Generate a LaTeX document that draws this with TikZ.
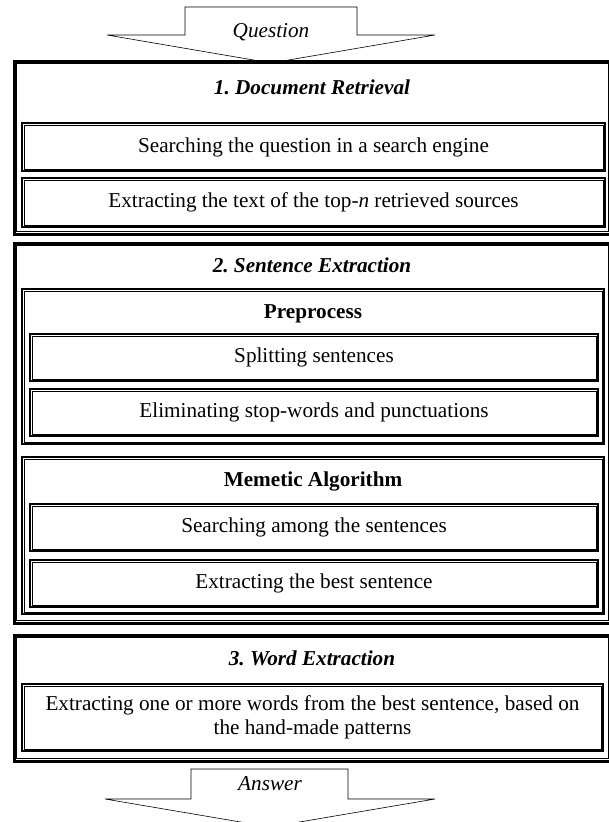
\documentclass[tikz,border=0pt]{standalone}
\usepackage{fontspec}
\setmainfont{Liberation Serif}
\usetikzlibrary{positioning}
\frenchspacing

\begin{document}
\begin{tikzpicture}
[x=1pt, y=-1pt,
 font=\fontsize{21.2}{24}\selectfont,
 stage/.style={shape=rectangle, draw, line width=3pt, outer sep=0pt, inner sep=0pt, anchor=north west},
 group/.style={shape=rectangle, draw, line width=2pt, outer sep=0pt, inner sep=0pt, anchor=north west},
 task/.style={shape=rectangle, draw, line width=2pt, outer sep=0pt, inner sep=0pt, anchor=north west, align=center},
 title/.style={font=\fontsize{21.2}{24}\selectfont\bfseries\itshape, anchor=base},
 subtitle/.style={font=\fontsize{21.2}{24}\selectfont\bfseries, anchor=base},
 flow/.style={draw, line width=0.6pt, fill=white}]
\useasboundingbox (0,0) rectangle (609,822);

% input and output arrows
\draw[flow] (185,7) -- (357,7) -- (357,35) -- (435,35) -- (271,63) -- (107,35) -- (185,35) -- cycle;
\node[anchor=base] (question) at (271,37) {\itshape Question};

% stage 1
\node[stage, minimum width=597pt, minimum height=173pt] (s1) at (14,61) {};
\node[title] (h1) at (312,94) {1. Document Retrieval};
\node[task, minimum width=583pt, minimum height=48pt] (t1) at (22,123) {Searching the question in a search engine};
\node[task, minimum width=583pt, minimum height=49pt] (t2) at (22,178) {Extracting the text of the top-\textit{n} retrieved sources};

% stage 2
\node[stage, minimum width=597pt, minimum height=380pt] (s2) at (14,243) {};
\node[title] (h2) at (312,272) {2. Sentence Extraction};
\node[group, minimum width=582pt, minimum height=155pt] (g1) at (22,289) {};
\node[subtitle] (pre) at (313,318) {Preprocess};
\node[task, minimum width=568pt, minimum height=47pt] (t3) at (30,334) {Splitting sentences};
\node[task, minimum width=568pt, minimum height=47pt] (t4) at (30,389) {Eliminating stop-words and punctuations};
\node[group, minimum width=582pt, minimum height=157pt] (g2) at (22,457) {};
\node[subtitle] (mem) at (313,486) {Memetic Algorithm};
\node[task, minimum width=568pt, minimum height=47pt] (t5) at (30,504) {Searching among the sentences};
\node[task, minimum width=568pt, minimum height=47pt] (t6) at (30,560) {Extracting the best sentence};

% stage 3
\node[stage, minimum width=597pt, minimum height=126pt] (s3) at (14,635) {};
\node[title] (h3) at (312,665) {3. Word Extraction};
\node[task, minimum width=581pt, minimum height=67pt] (t7) at (22,684) {Extracting one or more words from the best sentence, based on\\the hand-made patterns};

\draw[flow] (191,769) -- (348,769) -- (348,799) -- (435,799) -- (270,827) -- (105,799) -- (191,799) -- cycle;
\node[anchor=base] (answer) at (270,790) {\itshape Answer};

% thin inner lines of the borders
\foreach \n in {s1,s2,s3}
  \draw[line width=0.6pt] ([shift={(2.6pt,-2.6pt)}]\n.north west) rectangle ([shift={(-2.6pt,2.6pt)}]\n.south east);
\foreach \n in {g1,g2,t1,t2,t3,t4,t5,t6,t7}
  \draw[line width=0.5pt] ([shift={(1.9pt,-1.9pt)}]\n.north west) rectangle ([shift={(-1.9pt,1.9pt)}]\n.south east);
\end{tikzpicture}
\end{document}
